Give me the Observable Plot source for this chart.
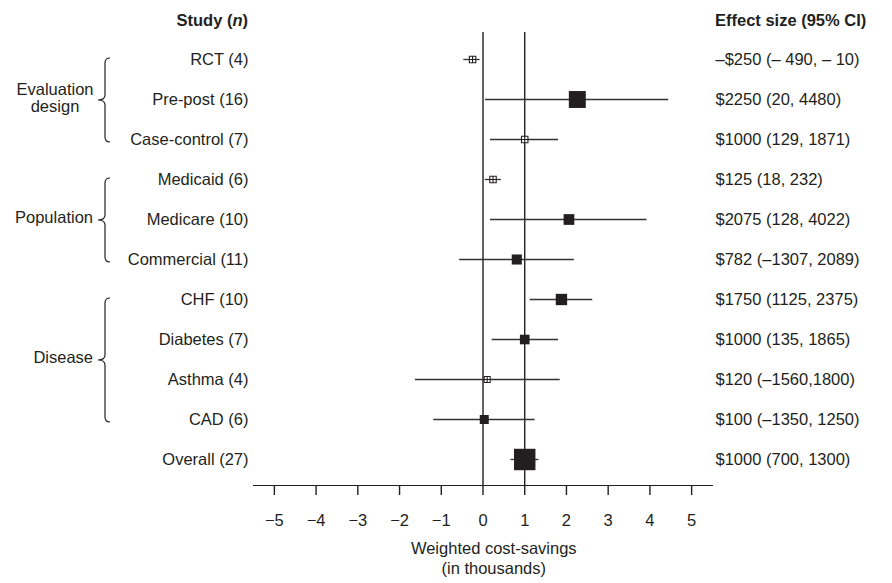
<!DOCTYPE html>
<html>
<head>
<meta charset="utf-8">
<script src="https://cdn.jsdelivr.net/npm/d3@7"></script>
<script src="https://cdn.jsdelivr.net/npm/@observablehq/plot@0.6"></script>
<style>
  body { margin: 0; background: white; }
  svg { display: block; }
</style>
</head>
<body>
<div id="chart"></div>
<script>
// ---- data ----
const labels = ["RCT (4)", "Pre-post (16)", "Case-control (7)", "Medicaid (6)", "Medicare (10)", "Commercial (11)", "CHF (10)", "Diabetes (7)", "Asthma (4)", "CAD (6)", "Overall (27)"];
const estimate = [-0.25, 2.26, 1.0, 0.24, 2.06, 0.81, 1.88, 1.0, 0.1, 0.03, 1.0];
const lower = [-0.46, 0.06, 0.18, 0.05, 0.18, -0.56, 1.13, 0.22, -1.62, -1.18, 0.67];
const upper = [-0.07, 4.45, 1.81, 0.44, 3.93, 2.19, 2.63, 1.81, 1.85, 1.25, 1.34];
const weight = [30, 79, 30, 30, 50, 47, 53, 45, 28, 42, 100];
const effectText = ["\u2013$250 (\u2013 490, \u2013 10)", "$2250 (20, 4480)", "$1000 (129, 1871)", "$125 (18, 232)", "$2075 (128, 4022)", "$782 (\u20131307, 2089)", "$1750 (1125, 2375)", "$1000 (135, 1865)", "$120 (\u20131560,1800)", "$100 (\u20131350, 1250)", "$1000 (700, 1300)"];
const groupNames = [["Evaluation", "design"], ["Population"], ["Disease"]];
const groupMembers = [["RCT (4)", "Pre-post (16)", "Case-control (7)"], ["Medicaid (6)", "Medicare (10)", "Commercial (11)"], ["CHF (10)", "Diabetes (7)", "Asthma (4)", "CAD (6)"]];
const xTicks = [-5, -4, -3, -2, -1, 0, 1, 2, 3, 4, 5];
const refLines = [0, 1];
const xTitle = ["Weighted cost-savings", "(in thousands)"];

const rows = labels.map((label, i) => ({label, est: estimate[i], lo: lower[i], hi: upper[i], w: weight[i], effect: effectText[i]}));
const small = rows.filter(d => d.w < 35);
const big = rows.filter(d => d.w >= 35);

const ink = "#231f20";
const fs = 16.5;
const crossSquare = {
  draw(context, size) {
    const s = Math.sqrt(size) / 2;
    context.moveTo(-s, -s); context.lineTo(s, -s); context.lineTo(s, s); context.lineTo(-s, s); context.closePath();
    context.moveTo(-s, 0); context.lineTo(s, 0);
    context.moveTo(0, -s); context.lineTo(0, s);
  }
};

const W = 892, H = 583;
const chart = Plot.plot({
  width: W, height: H,
  marginLeft: 253, marginRight: 180, marginTop: 32, marginBottom: 98,
  style: {fontFamily: "'Liberation Sans', Arial, Helvetica, sans-serif", fontSize: fs + "px", color: ink, background: "white", overflow: "visible"},
  x: {domain: [-5.5, 5.5], ticks: xTicks, tickSize: 10, tickPadding: 19, line: true, label: null,
      tickFormat: d => d < 0 ? "\u2212" + Math.abs(d) : String(d)},
  y: {type: "point", domain: labels, range: [55, 462], padding: 0, axis: null},
  r: {type: "linear", domain: [0, 100], range: [0, 12.1]},
  marks: [
    Plot.ruleX(refLines, {stroke: ink, strokeWidth: 1.4}),
    Plot.ruleY(rows, {y: "label", x1: "lo", x2: "hi", stroke: "#333", strokeWidth: 1.3}),
    Plot.dot(big, {x: "est", y: "label", r: "w", symbol: "square", fill: ink, stroke: "none"}),
    Plot.dot(small, {x: "est", y: "label", r: "w", symbol: crossSquare, fill: "white", stroke: ink, strokeWidth: 1.1}),
    Plot.text(rows, {y: "label", text: "label", frameAnchor: "left", textAnchor: "end", dx: -5, fill: ink, fontSize: fs}),
    Plot.text(rows, {y: "label", text: "effect", frameAnchor: "right", textAnchor: "start", dx: 3, fill: ink, fontSize: fs})
  ]
});
document.getElementById("chart").appendChild(chart);

d3.select(chart).selectAll("[aria-label^='x-axis'] path, [aria-label^='x-axis'] line").attr("stroke-width", 1.4);

const y = chart.scale("y");
const xs = chart.scale("x");
const svg = d3.select(chart);
const font = "'Liberation Sans', Arial, Helvetica, sans-serif";

// headers
const h1 = svg.append("text").attr("x", 248).attr("y", 25.5).attr("text-anchor", "end")
  .attr("font-family", font).attr("font-size", fs).attr("font-weight", "bold").attr("fill", ink);
h1.append("tspan").text("Study (");
h1.append("tspan").attr("font-style", "italic").text("n");
h1.append("tspan").text(")");
svg.append("text").attr("x", 715).attr("y", 25.5).attr("text-anchor", "start")
  .attr("font-family", font).attr("font-size", fs).attr("font-weight", "bold").attr("fill", ink)
  .text("Effect size (95% CI)");

// axis title
const xc = xs.apply(0.27);
xTitle.forEach((t, i) => {
  svg.append("text").attr("x", xc).attr("y", 554 + i * 20).attr("text-anchor", "middle")
    .attr("font-family", font).attr("font-size", fs).attr("fill", ink).text(t);
});

// braces and group labels
const bx = 105;
groupMembers.forEach((members, gi) => {
  const top = y.apply(members[0]) - 1;
  const bot = y.apply(members[members.length - 1]) + 3;
  const mid = (top + bot) / 2;
  const c = 5;
  const p = `M${bx + 5},${top} Q${bx},${top} ${bx},${top + c} L${bx},${mid - c} Q${bx},${mid} ${bx - 7},${mid} Q${bx},${mid} ${bx},${mid + c} L${bx},${bot - c} Q${bx},${bot} ${bx + 5},${bot}`;
  svg.append("path").attr("d", p).attr("fill", "none").attr("stroke", ink).attr("stroke-width", 1.2);
  const lines = groupNames[gi];
  const lh = 17;
  lines.forEach((t, li) => {
    const yy = mid - 2 + (li - (lines.length - 1) / 2) * lh;
    svg.append("text").attr("x", lines.length > 1 ? 55 : 93).attr("y", yy).attr("dy", "0.32em")
      .attr("text-anchor", lines.length > 1 ? "middle" : "end")
      .attr("font-family", font).attr("font-size", fs).attr("fill", ink).text(t);
  });
});
</script>
</body>
</html>
